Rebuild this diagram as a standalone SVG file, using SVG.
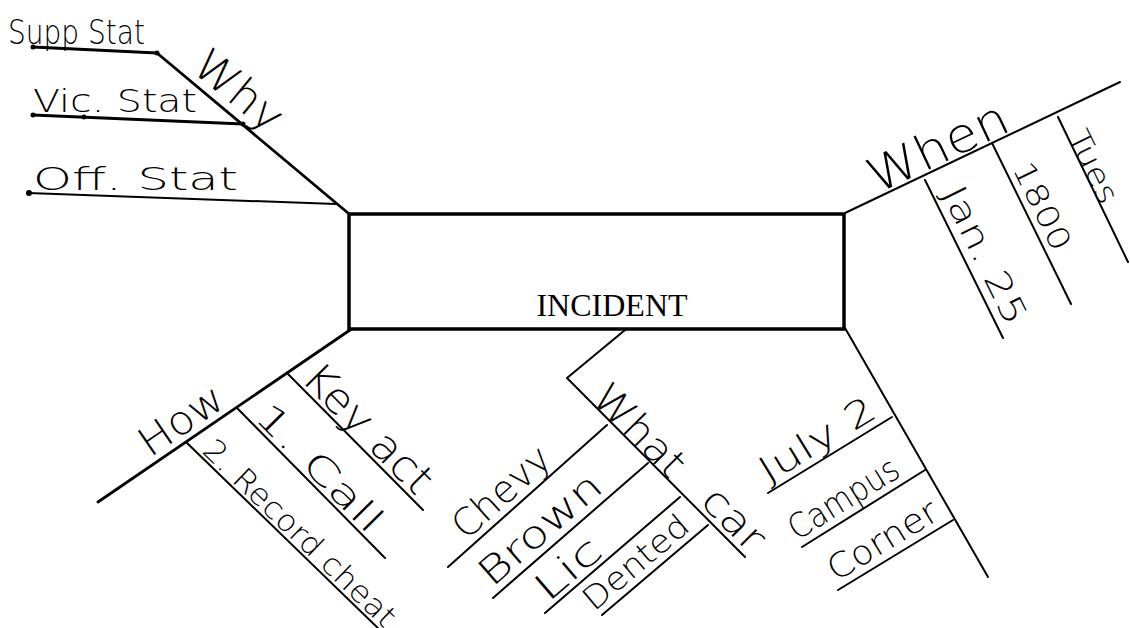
<svg xmlns="http://www.w3.org/2000/svg" width="1130" height="628" viewBox="0 0 1130 628">
<style>
.ln{stroke:#000;stroke-width:2;fill:none;stroke-linecap:round;stroke-linejoin:round}
.tk{stroke-width:2.8}
.hw{font-family:"DejaVu Sans","Liberation Sans",sans-serif;fill:#000;font-weight:200}
.box{fill:#fff;stroke:#000;stroke-width:3.5}
.title{font-family:"Liberation Serif","Times New Roman",serif;font-size:32px;fill:#000}
</style>
<rect width="1130" height="628" fill="#fff"/>
<g id="connectors">
<path class="ln tk" d="M157,53 L348,213"/>
<path class="ln tk" d="M33,47 L157,53"/>
<path class="ln tk" d="M33,115 L243,124"/>
<path class="ln" d="M28,193 L336,204"/>
<path class="ln" d="M845,213 L1120,82"/>
<path class="ln" d="M925,180 L1003,338"/>
<path class="ln" d="M992,143 L1071,304"/>
<path class="ln" d="M1058,117 L1128,262"/>
<path class="ln tk" d="M350,330 L98,502"/>
<path class="ln" d="M287,373 L423,510"/>
<path class="ln" d="M237,408 L385,558"/>
<path class="ln" d="M187,443 L382,632"/>
<path class="ln" d="M625,330 L567,378 L745,557"/>
<path class="ln" d="M607,425 L448,567"/>
<path class="ln" d="M648,463 L493,598"/>
<path class="ln" d="M680,497 L545,613"/>
<path class="ln" d="M708,525 L602,615"/>
<path class="ln" d="M845,328 L988,577"/>
<path class="ln" d="M892,417 L768,493"/>
<path class="ln" d="M925,470 L802,547"/>
<path class="ln" d="M953,520 L838,590"/>
<circle cx="33" cy="47" r="2.5"/>
<circle cx="157" cy="53" r="2.5"/>
<circle cx="33" cy="115" r="2.5"/>
<circle cx="84" cy="117" r="2.5"/>
<circle cx="243" cy="124" r="2.5"/>
<circle cx="29" cy="193" r="3"/>
</g>
<g id="incident">
<rect class="box" x="349" y="214" width="495" height="115"/>
<text class="title" x="612" y="316" text-anchor="middle">INCIDENT</text>
</g>
<g id="why">
<text class="hw" font-size="44" textLength="102" lengthAdjust="spacingAndGlyphs" transform="translate(190,70) rotate(39.4)">Why</text>
<text class="hw" font-size="34" x="8" y="44" textLength="137" lengthAdjust="spacingAndGlyphs">Supp Stat</text>
<text class="hw" font-size="32" x="33" y="112" textLength="164" lengthAdjust="spacingAndGlyphs">Vic. Stat</text>
<text class="hw" font-size="32" x="33" y="190" textLength="205" lengthAdjust="spacingAndGlyphs">Off. Stat</text>
</g>
<g id="when">
<text class="hw" font-size="48" textLength="150" lengthAdjust="spacingAndGlyphs" transform="translate(877,194) rotate(-25.3)">When</text>
<text class="hw" font-size="34" textLength="150" lengthAdjust="spacingAndGlyphs" transform="translate(941,193) rotate(63.7)">Jan. 25</text>
<text class="hw" font-size="30" textLength="95" lengthAdjust="spacingAndGlyphs" transform="translate(1012,168) rotate(63.9)">1800</text>
<text class="hw" font-size="30" textLength="78" lengthAdjust="spacingAndGlyphs" transform="translate(1067,136) rotate(64.1)">Tues</text>
</g>
<g id="how">
<text class="hw" font-size="40" textLength="94" lengthAdjust="spacingAndGlyphs" transform="translate(150,458) rotate(-34.3)">How</text>
<text class="hw" font-size="42" textLength="165" lengthAdjust="spacingAndGlyphs" transform="translate(300,380) rotate(45.2)">Key act</text>
<text class="hw" font-size="36" textLength="165" lengthAdjust="spacingAndGlyphs" transform="translate(253,418) rotate(45.4)">1. Call</text>
<text class="hw" font-size="30" textLength="255" lengthAdjust="spacingAndGlyphs" transform="translate(201,452) rotate(44)">2. Record cheat</text>
</g>
<g id="what">
<text class="hw" font-size="40" textLength="113" lengthAdjust="spacingAndGlyphs" transform="translate(590,400) rotate(45.2)">What</text>
<text class="hw" font-size="40" textLength="72" lengthAdjust="spacingAndGlyphs" transform="translate(699,503) rotate(45.2)">car</text>
<text class="hw" font-size="38" textLength="118" lengthAdjust="spacingAndGlyphs" transform="translate(466,541) rotate(-41.8)">Chevy</text>
<text class="hw" font-size="38" textLength="150" lengthAdjust="spacingAndGlyphs" transform="translate(492,588) rotate(-41)">Brown</text>
<text class="hw" font-size="38" textLength="75" lengthAdjust="spacingAndGlyphs" transform="translate(548,603) rotate(-40.7)">Lic</text>
<text class="hw" font-size="32" textLength="128" lengthAdjust="spacingAndGlyphs" transform="translate(594,612) rotate(-40.3)">Dented</text>
</g>
<g id="where">
<text class="hw" font-size="36" textLength="130" lengthAdjust="spacingAndGlyphs" transform="translate(768,484) rotate(-31.5)">July 2</text>
<text class="hw" font-size="34" textLength="124" lengthAdjust="spacingAndGlyphs" transform="translate(797,541) rotate(-32)">Campus</text>
<text class="hw" font-size="34" textLength="123" lengthAdjust="spacingAndGlyphs" transform="translate(836,582) rotate(-31.3)">Corner</text>
</g>
</svg>
